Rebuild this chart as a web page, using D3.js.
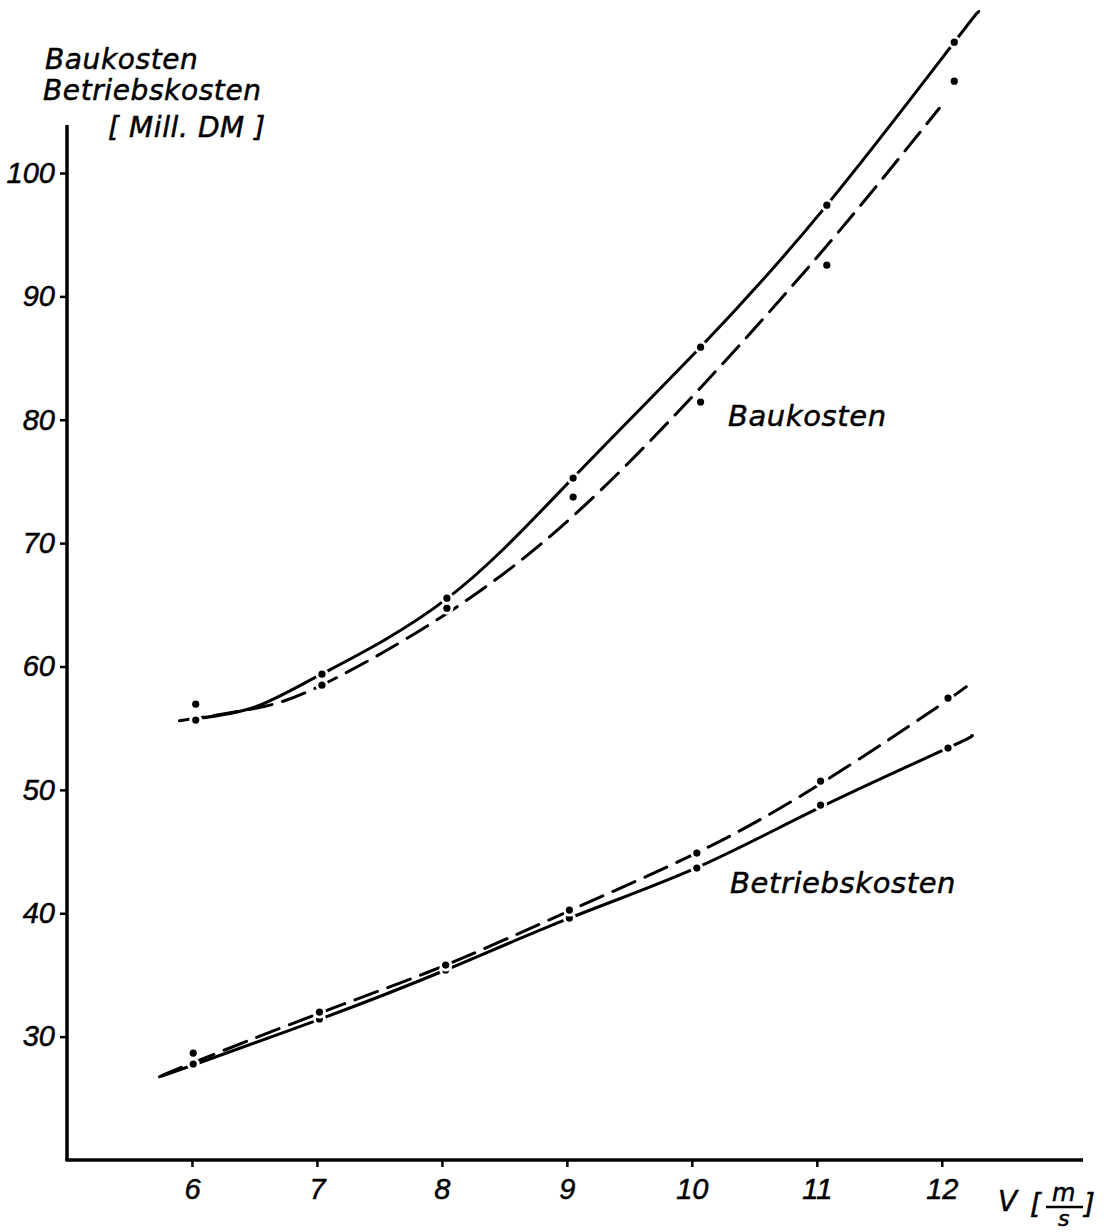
<!DOCTYPE html>
<html>
<head>
<meta charset="utf-8">
<script src="https://cdn.jsdelivr.net/npm/d3@7"></script>
<style>
  html, body { margin: 0; padding: 0; background: #fff; }
  svg text { fill: #000; }
  .lab { font-family: "DejaVu Sans", sans-serif; font-style: oblique; font-size: 28px; letter-spacing: 0.6px; stroke: #000; stroke-width: 0.5px; }
  .tick text { font-family: "Liberation Sans", sans-serif; font-style: italic; font-size: 29px; stroke: #000; stroke-width: 0.5px; }
</style>
</head>
<body>
<script>
// ---- data ----
const xTicks = [6, 7, 8, 9, 10, 11, 12];
const yTicks = [30, 40, 50, 60, 70, 80, 90, 100];

// measured points (x in m/s, y in Mill. DM)
const bauPointsX = [6.03, 7.04, 8.04, 9.05, 10.07, 11.08, 12.1];
const bauPointsUpper = [56.95, 59.38, 65.54, 75.27, 85.88, 97.39, 110.6];
const bauPointsLower = [55.66, 58.49, 64.73, 73.73, 81.43, 92.53, 107.44];

const betPointsX = [6.01, 7.02, 8.03, 9.02, 10.04, 11.03, 12.05];
const betPointsUpper = [28.67, 31.99, 35.8, 40.26, 44.88, 50.71, 57.44];
const betPointsLower = [27.78, 31.43, 35.4, 39.61, 43.66, 48.77, 53.39];

// fitted curves
const bauSolidX = [6.05, 6.5, 7.04, 8.04, 9.05, 10.07, 11.08, 12.1, 12.29];
const bauSolidY = [55.8, 56.7, 59.4, 65.5, 75.3, 85.9, 97.4, 110.6, 113.0];
const bauDashX = [5.9, 6.5, 7.04, 8.04, 9.05, 10.07, 11.08, 11.98];
const bauDashY = [55.6, 56.6, 58.5, 64.3, 72.2, 82.6, 94.1, 105.25];

const betSolidX = [5.76, 6.01, 7.02, 8.03, 9.02, 10.04, 11.03, 12.05, 12.24];
const betSolidY = [26.8, 27.7, 31.4, 35.4, 39.6, 43.7, 48.6, 53.4, 54.4];
const betDashX = [5.74, 6.01, 7.02, 8.03, 9.02, 10.04, 11.03, 12.05, 12.17];
const betDashY = [26.75, 27.9, 31.9, 35.8, 40.2, 44.9, 50.5, 57.3, 58.3];

// ---- drawing ----
const W = 1115, H = 1232;
const svg = d3.select("body").append("svg").attr("width", W).attr("height", H);

const x = d3.scaleLinear().domain([5, 13.13]).range([67, 1083]);
const y = d3.scaleLinear().domain([20, 100]).range([1160, 173]);

// axes
const xAxis = d3.axisBottom(x).tickValues(xTicks).tickSize(7).tickPadding(11).tickFormat(d3.format("d"));
const yAxis = d3.axisLeft(y).tickValues(yTicks).tickSize(7).tickPadding(5).tickFormat(d3.format("d"));

const gx = svg.append("g").attr("transform", "translate(0,1160)").call(xAxis);
const gy = svg.append("g").attr("transform", "translate(67,0)").call(yAxis);
[gx, gy].forEach(g => {
  g.select(".domain").remove();
  g.selectAll(".tick line").attr("stroke", "#000").attr("stroke-width", 2.5);
  g.selectAll(".tick text").attr("fill", "#000");
});

svg.append("line").attr("x1", 67).attr("x2", 67).attr("y1", y(103.9)).attr("y2", 1161)
  .attr("stroke", "#000").attr("stroke-width", 3.5);
svg.append("line").attr("x1", 65.5).attr("x2", 1083).attr("y1", 1160).attr("y2", 1160)
  .attr("stroke", "#000").attr("stroke-width", 3.5);

// curves
const line = d3.line().x(d => x(d[0])).y(d => y(d[1])).curve(d3.curveNatural);
function drawCurve(xs, ys, dashed) {
  svg.append("path").datum(xs.map((v, i) => [v, ys[i]]))
    .attr("d", line).attr("fill", "none").attr("stroke", "#000")
    .attr("stroke-width", 3).attr("stroke-linecap", "round")
    .attr("stroke-dasharray", dashed ? "24,11" : null);
}
drawCurve(bauSolidX, bauSolidY, false);
drawCurve(bauDashX, bauDashY, true);
drawCurve(betSolidX, betSolidY, false);
drawCurve(betDashX, betDashY, true);

// points
function drawPoints(xs, ys) {
  const pts = xs.map((v, i) => [v, ys[i]]);
  svg.append("g").selectAll("circle").data(pts).join("circle")
    .attr("cx", d => x(d[0])).attr("cy", d => y(d[1])).attr("r", 6.5).attr("fill", "#fff");
  svg.append("g").selectAll("circle").data(pts).join("circle")
    .attr("cx", d => x(d[0])).attr("cy", d => y(d[1])).attr("r", 3.6).attr("fill", "#000");
}
drawPoints(bauPointsX, bauPointsLower);
drawPoints(bauPointsX, bauPointsUpper);
drawPoints(betPointsX, betPointsLower);
drawPoints(betPointsX, betPointsUpper);

// labels
svg.append("text").attr("class", "lab").attr("x", 45).attr("y", 69).text("Baukosten");
svg.append("text").attr("class", "lab").attr("x", 43).attr("y", 100).text("Betriebskosten");
svg.append("text").attr("class", "lab").attr("x", 108).attr("y", 137).text("[ Mill. DM ]");
svg.append("text").attr("class", "lab").attr("x", 728).attr("y", 426).style("font-size", "29px").text("Baukosten");
svg.append("text").attr("class", "lab").attr("x", 730).attr("y", 893).style("font-size", "29px").text("Betriebskosten");

// x axis unit label: V [m/s]
const xl = svg.append("g");
xl.append("text").attr("class", "lab").attr("x", 998).attr("y", 1211).text("V");
xl.append("text").attr("class", "lab").attr("x", 1030).attr("y", 1214).text("[");
xl.append("text").attr("class", "lab").attr("x", 1064).attr("y", 1201).attr("text-anchor", "middle")
  .style("font-size", "24px").text("m");
xl.append("line").attr("x1", 1046).attr("x2", 1083).attr("y1", 1207).attr("y2", 1207)
  .attr("stroke", "#000").attr("stroke-width", 2.5);
xl.append("text").attr("class", "lab").attr("x", 1064).attr("y", 1226).attr("text-anchor", "middle")
  .style("font-size", "22px").text("s");
xl.append("text").attr("class", "lab").attr("x", 1084).attr("y", 1214).text("]");
</script>
</body>
</html>
